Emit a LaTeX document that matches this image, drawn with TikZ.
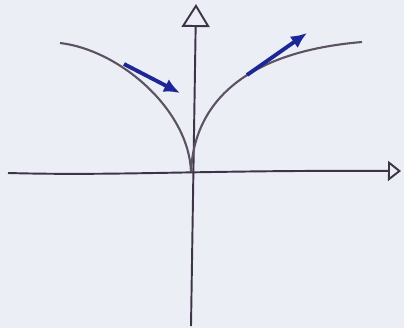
\documentclass[tikz,border=0pt]{standalone}
\usetikzlibrary{arrows.meta, calc}

\definecolor{paper}{RGB}{236,238,246}
\definecolor{pencil}{RGB}{62,52,72}
\definecolor{ink}{RGB}{28,38,150}

\begin{document}
\begin{tikzpicture}[
    x=0.02cm, y=-0.02cm,
    axis/.style   ={draw=pencil, line width=1.1pt},
    curve/.style  ={draw=pencil!85, line width=1.2pt},
    tangent/.style={draw=ink, line width=2.2pt, -{Latex[length=3.2mm, width=2.8mm]}},
]

% paper
\fill[paper] (0,0) rectangle (404,328);
\useasboundingbox (0,0) rectangle (404,328);

%==================== POINTS ====================

\coordinate (O)    at (191,172);
\coordinate (xl)   at (8,173);
\coordinate (xr)   at (401,171);
\coordinate (yb)   at (191,326);
\coordinate (yt)   at (196,4);
\coordinate (cl)   at (60,43);
\coordinate (cr)   at (362,42);

%==================== AXES ====================

\draw[axis, -{Triangle[open, length=4.6mm, width=5.6mm, line width=1.1pt]}] (yb) -- (yt);
\draw[axis, -{Triangle[open, length=2.6mm, width=4mm, line width=1.1pt]}] (xl) .. controls (120,176) and (200,170) .. (xr);

%==================== CUSP ====================

\draw[curve] (cl) .. controls (120,50) and (189,110) .. (O);
\draw[curve] (O) .. controls (194,104) and (243,52) .. (cr);

%==================== TANGENTS ====================

\coordinate (tl) at (124,64);
\coordinate (tr) at (247,75);
\draw[tangent] (tl) -- (180,93);
\draw[tangent] (tr) -- (307,33);

\end{tikzpicture}
\end{document}
